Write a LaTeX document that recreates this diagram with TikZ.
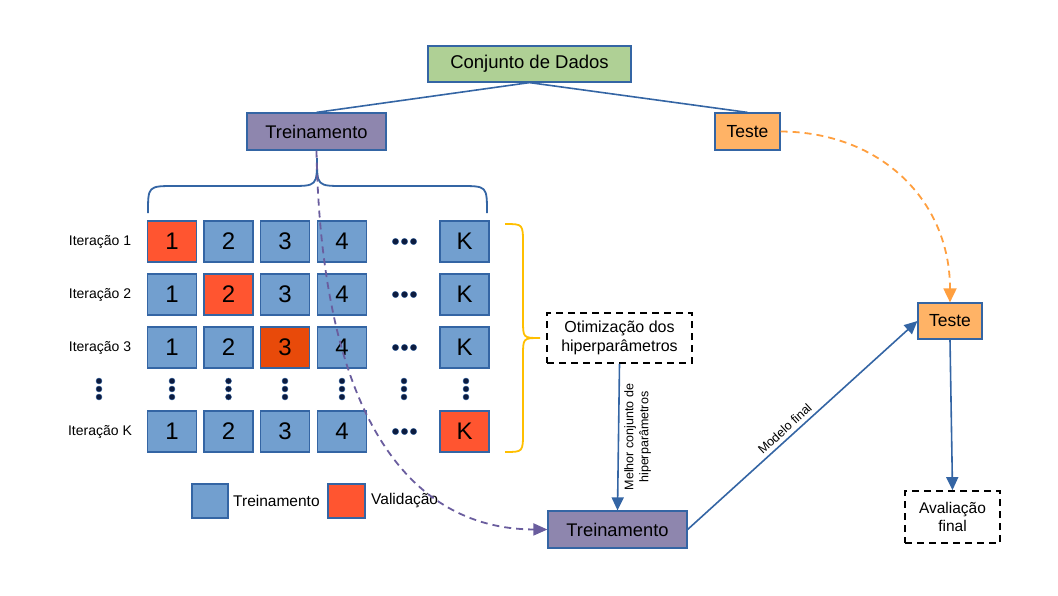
\documentclass[tikz,border=0pt]{standalone}
\usepackage{fontspec}
\setmainfont{Liberation Sans}
\usetikzlibrary{arrows.meta}
\definecolor{cellblue}{HTML}{729FCF}
\definecolor{edgeblue}{HTML}{3465A4}
\definecolor{cellred}{HTML}{FF5530}
\definecolor{cellred2}{HTML}{E84A0A}
\definecolor{datagreen}{HTML}{AFD095}
\definecolor{trainpurple}{HTML}{8E86AE}
\definecolor{testorange}{HTML}{FFB366}
\definecolor{dashorange}{HTML}{FF9F3F}
\definecolor{dashpurple}{HTML}{6A5D9E}
\definecolor{braceyellow}{HTML}{FFBF00}
\definecolor{dotnavy}{HTML}{0D1B3E}
\tikzset{
  fs/.code args={#1/#2}{\fontsize{#1}{#2}\selectfont},
  boxbase/.style={draw=edgeblue, line width=1.2pt, inner sep=0pt, align=center, text=black},
  cell/.style={boxbase, fill=cellblue, minimum width=49pt, minimum height=41pt, font={\fontsize{24}{28}\selectfont}},
  valcell/.style={cell, fill=cellred},
  itlabel/.style={font={\fontsize{14}{16}\selectfont}},
  dashbox/.style={draw=black, line width=1.8pt, dash pattern=on 7pt off 5pt, inner sep=0pt, align=center},
  link/.style={draw=edgeblue, line width=1.6pt},
  tip/.style={-{Triangle[length=13pt,width=12pt]}},
  dotc/.style={fill=dotnavy, draw=edgeblue, line width=0.4pt},
}
\begin{document}
\begin{tikzpicture}[x=1pt,y=-1pt]
\useasboundingbox (0,0) rectangle (1058,595);

% top nodes
\node[boxbase, fill=datagreen, minimum width=203pt, minimum height=36pt, font={\fontsize{18.5}{22}\selectfont}] (conj) at (529.5,64) {Conjunto de Dados};
\node[boxbase, fill=trainpurple, minimum width=139pt, minimum height=37pt, font={\fontsize{18.3}{22}\selectfont}] (trein) at (316.5,131.5) {Treinamento};
\node[boxbase, fill=testorange, minimum width=65pt, minimum height=37pt, font={\fontsize{17.5}{22}\selectfont}] (teste) at (747.5,131.5) {Teste};

\draw[link] (conj.south) -- (trein.north);
\draw[link] (conj.south) -- (teste.north);

% blue brace under Treinamento
\coordinate (btip) at (317,158);
\draw[edgeblue, line width=1.8pt] (148,213) .. controls (148,186) .. (175,186) -- (290,186) .. controls (317,186) .. (btip)
  .. controls (317,186) .. (344,186) -- (460,186) .. controls (487,186) .. (487,213);

% iteration labels
\node[itlabel] (it1) at (100,241.5) {Iteração 1};
\node[itlabel] (it2) at (100,294.5) {Iteração 2};
\node[itlabel] (it3) at (100,347.5) {Iteração 3};
\node[itlabel] (itk) at (100,431.5) {Iteração K};

% row 1
\node[valcell] (a1) at (172,241.5) {1};
\node[cell] (a2) at (228.5,241.5) {2};
\node[cell] (a3) at (285,241.5) {3};
\node[cell] (a4) at (342,241.5) {4};
\node[cell] (ak) at (464.5,241.5) {K};
% row 2
\node[cell] (b1) at (172,294.5) {1};
\node[valcell] (b2) at (228.5,294.5) {2};
\node[cell] (b3) at (285,294.5) {3};
\node[cell] (b4) at (342,294.5) {4};
\node[cell] (bk) at (464.5,294.5) {K};
% row 3
\node[cell] (c1) at (172,347.5) {1};
\node[cell] (c2) at (228.5,347.5) {2};
\node[valcell, fill=cellred2] (c3) at (285,347.5) {3};
\node[cell] (c4) at (342,347.5) {4};
\node[cell] (ck) at (464.5,347.5) {K};
% row K
\node[cell] (d1) at (172,431.5) {1};
\node[cell] (d2) at (228.5,431.5) {2};
\node[cell] (d3) at (285,431.5) {3};
\node[cell] (d4) at (342,431.5) {4};
\node[valcell] (dk) at (464.5,431.5) {K};

% horizontal ellipses
\foreach \yy in {241.5,294.5,347.5,431.5}{
  \foreach \xx in {395.5,404.5,413.5}{
    \fill[dotc] (\xx,\yy) circle (3.2pt);
  }
}
% vertical ellipses
\foreach \xx in {99,172,228.5,285,342,404,466}{
  \foreach \yy in {381,389,397}{
    \fill[dotc] (\xx,\yy) circle (3pt);
  }
}

% yellow brace
\draw[braceyellow, line width=1.8pt] (505,224) .. controls (523,224) .. (523,244) -- (523,320) .. controls (523,338) .. (540,338)
  .. controls (523,338) .. (523,356) -- (523,432) .. controls (523,452) .. (505,452);

% optimisation box
\node[dashbox, minimum width=145pt, minimum height=50pt, font={\fontsize{16}{19}\selectfont}] (otim) at (619.5,338) {Otimização dos\\hiperparâmetros};

% bottom training
\node[boxbase, fill=trainpurple, minimum width=139pt, minimum height=37pt, font={\fontsize{18.3}{22}\selectfont}] (treinB) at (617.5,529.5) {Treinamento};

% right test
\node[boxbase, fill=testorange, minimum width=64pt, minimum height=36pt, font={\fontsize{17.5}{22}\selectfont}] (testeR) at (950,321) {Teste};

% final evaluation
\node[dashbox, minimum width=95pt, minimum height=52pt, font={\fontsize{15.5}{18.5}\selectfont}] (aval) at (952.5,517) {Avaliação\\final};

% legend
\node[boxbase, fill=cellblue, minimum width=36pt, minimum height=34pt] (legb) at (210,501) {};
\node[anchor=west, inner sep=0pt, font={\fontsize{15.5}{18}\selectfont}] (legbt) at (233,501) {Treinamento};
\node[boxbase, fill=cellred, minimum width=37pt, minimum height=34pt] (legr) at (346.5,501) {};
\node[anchor=west, inner sep=0pt, font={\fontsize{15.5}{18}\selectfont}] (legrt) at (371,501) {Validação};

% connectors
\draw[dashpurple, line width=1.8pt, dash pattern=on 7pt off 5pt, -{Triangle[length=14pt,width=12pt]}]
  (trein.south) .. controls (321,400) and (400,529) .. (treinB.west);
\draw[dashorange, line width=1.8pt, dash pattern=on 7pt off 5pt, -{Triangle[length=14pt,width=13pt]}]
  (teste.east) .. controls (880,132) and (950,200) .. (testeR.north);
\draw[link, tip] (otim.south) -- (treinB.north)
  node[pos=0.5, rotate=90, anchor=north, inner sep=5pt, align=center, font={\fontsize{12.5}{15}\selectfont}] (lbl1) {Melhor conjunto de\\hiperparâmetros};
\draw[link, tip] (treinB.east) -- (testeR.west)
  node[pos=0.45, sloped, above, inner sep=4pt, font={\fontsize{12.5}{15}\selectfont}] (lbl2) {Modelo final};
\draw[link, tip] (testeR.south) -- (aval.north);
\end{tikzpicture}
\end{document}
